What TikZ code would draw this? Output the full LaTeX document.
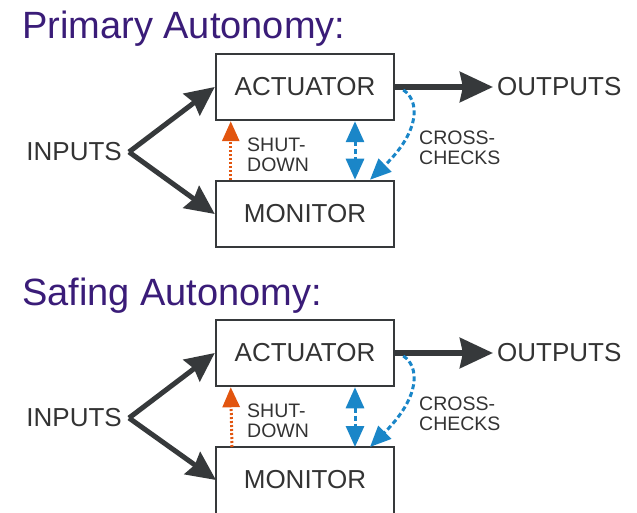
\documentclass[tikz,border=0pt]{standalone}
\usepackage{fontspec}
\setmainfont{Liberation Sans}
\usetikzlibrary{arrows.meta,calc}
\definecolor{ttl}{RGB}{58,28,120}
\definecolor{dk}{RGB}{54,57,59}
\definecolor{bl}{RGB}{26,134,200}
\definecolor{org}{RGB}{226,85,15}
\definecolor{txt}{RGB}{51,51,51}
\tikzset{
 boxnode/.style={draw=dk, line width=2.5pt, minimum width=178pt, minimum height=66pt, inner sep=0pt, text=txt, font=\fontsize{26}{30}\selectfont},
 lbl/.style={inner sep=0pt, text=txt, font=\fontsize{26}{30}\selectfont},
 smalllbl/.style={inner sep=0pt, text=txt, align=left, font=\fontsize{19.5}{20}\selectfont},
 titlelbl/.style={inner sep=0pt, anchor=base west, text=ttl, font=\fontsize{38}{40}\selectfont},
 inarrow/.style={draw=dk, line width=5pt, -{Stealth[length=29pt,width=27pt,inset=3pt]}},
 outarrow/.style={draw=dk, line width=6pt, shorten >=4pt, -{Stealth[length=33pt,width=30pt,inset=3pt]}},
 shutarrow/.style={draw=org, line width=3pt, dash pattern=on 2pt off 2pt, -{Triangle[length=20pt,width=17pt]}},
 crossarrow/.style={draw=bl, line width=3pt, dash pattern=on 5pt off 3pt, {Triangle[length=21pt,width=18pt]}-{Triangle[length=21pt,width=18pt]}},
 checkarrow/.style={draw=bl, line width=3pt, dash pattern=on 5pt off 3pt, -{Triangle[length=21pt,width=18pt]}},
}
\begin{document}
\begin{tikzpicture}[x=1pt,y=-1pt]
\useasboundingbox (0,0) rectangle (637,513);
% ---------- Primary ----------
\node[titlelbl] (t1) at (22,39) {Primary Autonomy:};
\node[boxnode] (a1) at (305,87) {ACTUATOR};
\node[boxnode] (m1) at (305,214) {MONITOR};
\node[lbl, anchor=east] (i1) at (122,152) {INPUTS};
\coordinate (v1) at (129,152);
\node[lbl, anchor=west] (o1) at (497,87) {OUTPUTS};
\node[smalllbl, anchor=west] (s1) at (247,155) {SHUT-\\DOWN};
\node[smalllbl, anchor=west] (c1) at (419,148) {CROSS-\\CHECKS};
\draw[inarrow] (v1) -- (a1.west);
\draw[inarrow] (v1) -- (m1.west);
\draw[outarrow] (a1.east) -- (o1.west);
\draw[shutarrow] ($(m1.north west)+(16,0)$) -- ($(a1.south west)+(16,0)$);
\draw[crossarrow] ($(a1.south)+(50,0)$) -- ($(m1.north)+(50,0)$);
\draw[checkarrow] ($(a1.east)+(8,3)$) .. controls ($(a1.east)+(24,13)$) and ($(a1.east)+(26,43)$) .. ($(m1.north)+(65,0)$);
% ---------- Safing ----------
\node[titlelbl] (t2) at (22,305) {Safing Autonomy:};
\node[boxnode] (a2) at (305,353) {ACTUATOR};
\node[boxnode, draw=none, outer sep=0pt] (m2) at (305,480) {MONITOR};
\draw[dk, line width=2.5pt] (m2.south west) -- (m2.north west) -- (m2.north east) -- (m2.south east);
\node[lbl, anchor=east] (i2) at (122,418) {INPUTS};
\coordinate (v2) at (129,418);
\node[lbl, anchor=west] (o2) at (497,353) {OUTPUTS};
\node[smalllbl, anchor=west] (s2) at (247,421) {SHUT-\\DOWN};
\node[smalllbl, anchor=west] (c2) at (419,414) {CROSS-\\CHECKS};
\draw[inarrow] (v2) -- (a2.west);
\draw[inarrow] (v2) -- (m2.west);
\draw[outarrow] (a2.east) -- (o2.west);
\draw[shutarrow] ($(m2.north west)+(16,0)$) -- ($(a2.south west)+(16,0)$);
\draw[crossarrow] ($(a2.south)+(50,0)$) -- ($(m2.north)+(50,0)$);
\draw[checkarrow] ($(a2.east)+(8,3)$) .. controls ($(a2.east)+(24,13)$) and ($(a2.east)+(26,43)$) .. ($(m2.north)+(65,0)$);
\end{tikzpicture}
\end{document}
